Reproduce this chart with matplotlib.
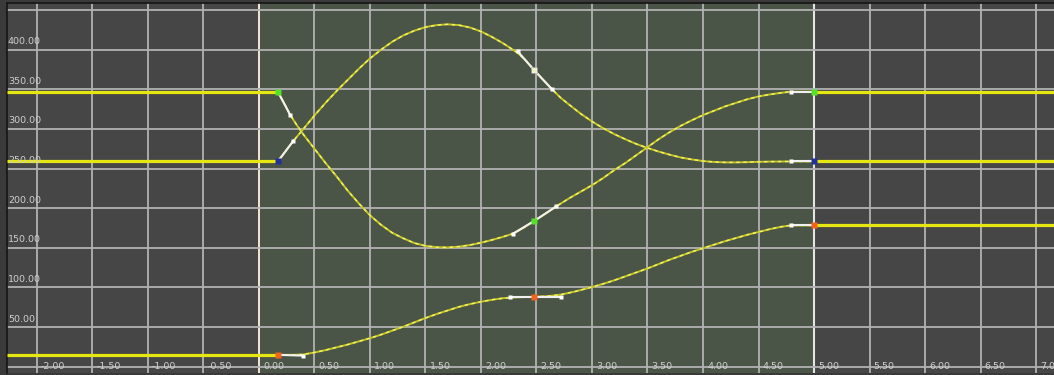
import matplotlib
matplotlib.use("Agg")
import matplotlib.pyplot as plt
import matplotlib.transforms as mtransforms

# animation curves (time, value), sampled along each spline
t_green = [0.17, 0.22, 0.28, 0.34, 0.40, 0.5, 0.6, 0.7, 0.8, 0.9, 1.0, 1.1, 1.2, 1.3,
           1.4, 1.5, 1.6, 1.7, 1.8, 1.9, 2.0, 2.1, 2.2, 2.29, 2.38, 2.48, 2.58, 2.68,
           2.8, 2.9, 3.0, 3.1, 3.2, 3.3, 3.4, 3.5, 3.6, 3.7, 3.8, 3.9, 4.0, 4.1, 4.2,
           4.3, 4.4, 4.5, 4.6, 4.7, 4.79, 4.9, 5.0]
v_green = [347, 334, 318, 305, 293, 275, 257, 240, 222, 206, 191, 179, 169, 162,
           156, 152.5, 150.8, 150.5, 151.5, 153.5, 156.5, 160, 164, 168, 175, 184, 193, 202.5,
           213, 221, 229, 238, 248, 257, 267, 277, 287, 296, 304, 311, 317.5, 323, 328.5,
           333, 337.5, 341, 343.5, 345.5, 347, 347, 347]

t_blue = [0.17, 0.24, 0.31, 0.4, 0.5, 0.6, 0.7, 0.8, 0.9, 1.0, 1.1, 1.2, 1.3, 1.4,
          1.5, 1.6, 1.7, 1.8, 1.9, 2.0, 2.1, 2.2, 2.33, 2.4, 2.48, 2.56, 2.64, 2.72,
          2.8, 2.9, 3.0, 3.1, 3.2, 3.3, 3.4, 3.5, 3.6, 3.7, 3.8, 3.9, 4.0, 4.1, 4.2,
          4.3, 4.4, 4.5, 4.6, 4.79, 5.0]
v_blue = [259, 272, 285, 300, 317, 333, 348, 362, 376, 389, 400, 410, 418, 424,
          428.5, 431, 432, 431, 428, 423, 416, 408, 396, 387, 374, 362, 350, 339,
          330, 319, 309.5, 301, 293.5, 287, 281, 276, 271.5, 267.5, 264, 261.5, 259.5, 258.3, 257.8,
          257.8, 258.1, 258.5, 258.8, 259, 259]

t_orange = [0.17, 0.3, 0.4, 0.5, 0.6, 0.7, 0.8, 0.9, 1.0, 1.1, 1.2, 1.3, 1.4, 1.5,
            1.6, 1.7, 1.8, 1.9, 2.0, 2.1, 2.2, 2.3, 2.48, 2.6, 2.72, 2.85, 3.0, 3.1,
            3.2, 3.3, 3.4, 3.5, 3.6, 3.7, 3.8, 3.9, 4.0, 4.1, 4.2, 4.3, 4.4, 4.5,
            4.6, 4.7, 4.79, 5.0]
v_orange = [15, 15, 15.5, 18, 21, 24.5, 28, 32, 36, 40.5, 45.5, 50.5, 56, 61.5,
            66.5, 71, 75.5, 79, 82, 84.5, 86.5, 87.5, 88.3, 89, 91, 95, 100.5, 104.5,
            109, 114, 119, 124, 129.5, 135, 140, 145, 149.5, 154, 158.5, 162.5, 166.5, 170,
            173.5, 176.5, 178.3, 178.3]

# keyframes: (time, value) and their tangent handle ends
keys_green = [(0.17, 347), (2.48, 184), (5.0, 347)]
handles_green = [[(0.28, 318)], [(2.29, 168), (2.68, 202.5)], [(4.79, 347)]]
keys_blue = [(0.17, 259), (2.48, 374), (5.0, 259)]
handles_blue = [[(0.31, 285)], [(2.33, 398), (2.64, 350)], [(4.79, 259)]]
keys_orange = [(0.17, 15), (2.48, 88.3), (5.0, 178.3)]
handles_orange = [[(0.40, 14)], [(2.26, 88.3), (2.72, 88.3)], [(4.79, 178.3)]]

x_ticks = [-2.0, -1.5, -1.0, -0.5, 0.0, 0.5, 1.0, 1.5, 2.0, 2.5, 3.0, 3.5,
           4.0, 4.5, 5.0, 5.5, 6.0, 6.5, 7.0]
y_ticks = [0, 50, 100, 150, 200, 250, 300, 350, 400, 450]
y_labeled = [50, 100, 150, 200, 250, 300, 350, 400]

clip_start, clip_end = 0.0, 5.0
x_min, x_max = -2.27, 7.162
y_min, y_max = -7.9, 458.9

fig = plt.figure(figsize=(10.54, 3.75), dpi=100)
fig.patch.set_facecolor("#3a3a3a")
ax = fig.add_axes([7 / 1054, 2 / 375, 1 - 7 / 1054, 370 / 375])
ax.set_facecolor("#464646")
ax.set_xlim(x_min, x_max)
ax.set_ylim(y_min, y_max)
ax.set_xticks([])
ax.set_yticks([])
for name, sp in ax.spines.items():
    sp.set_visible(name in ("left", "top"))
    sp.set_color("#151515")
    sp.set_linewidth(1.2)

# active clip range
ax.axvspan(clip_start, clip_end, color="#4a5547", zorder=0)

grid_col = "#b2b2b2"
for x in x_ticks:
    if x == clip_start:
        ax.axvline(x, color="#f6e4da", lw=1.4, zorder=1)
    elif x == clip_end:
        ax.axvline(x, color="#e4e4e4", lw=1.5, zorder=1)
    else:
        ax.axvline(x, color=grid_col, lw=1.3, zorder=1)
for y in y_ticks:
    ax.axhline(y, color=grid_col, lw=1.3, zorder=1)

# labels
lab_col = "#cfcfcf"
xoff = mtransforms.offset_copy(ax.transData, fig=fig, x=4, y=0, units="dots")
for x in x_ticks:
    ax.text(x, 0, f"{x:.2f}", transform=xoff, ha="left", va="center",
            fontsize=6.8, color=lab_col, zorder=6)
yoff = mtransforms.offset_copy(ax.get_yaxis_transform(), fig=fig, x=1, y=8, units="dots")
for y in y_labeled:
    ax.text(0, y, f"{y:.2f}", transform=yoff, ha="left", va="center",
            fontsize=6.8, color=lab_col, zorder=6)

curves = [
    (t_green, v_green, keys_green, handles_green, "#55e02c"),
    (t_blue, v_blue, keys_blue, handles_blue, "#22309a"),
    (t_orange, v_orange, keys_orange, handles_orange, "#f0641e"),
]

for ts, vs, keys, handles, key_col in curves:
    # pre/post infinity: constant
    ax.plot([x_min, ts[0]], [vs[0], vs[0]], color="#e6e612", lw=2.3, zorder=3,
            solid_capstyle="butt")
    ax.plot([ts[-1], x_max], [vs[-1], vs[-1]], color="#e6e612", lw=2.3, zorder=3,
            solid_capstyle="butt")
    # the spline itself
    ax.plot(ts, vs, color="#c4c41c", lw=1.4, zorder=3)
    ax.plot(ts, vs, color="#f2f27a", lw=1.0, zorder=3, dashes=(2.5, 2.5))
    # tangent handles
    for (kt, kv), hs in zip(keys, handles):
        for ht, hv in hs:
            ax.plot([kt, ht], [kv, hv], color="#f0f0f0", lw=1.5, zorder=4)
            ax.plot(ht, hv, "s", color="#ffffff", ms=3.0, mec="none", zorder=5)
    kt = [k[0] for k in keys]
    kv = [k[1] for k in keys]
    ax.plot(kt, kv, "s", color=key_col, ms=4.2, mec="none", zorder=5)

# selected middle key on the blue curve
ax.plot(keys_blue[1][0], keys_blue[1][1], "s", color="#f2f2c8", ms=4.2, mec="none", zorder=5)

fig.savefig("out.png", dpi=100, facecolor=fig.get_facecolor())
